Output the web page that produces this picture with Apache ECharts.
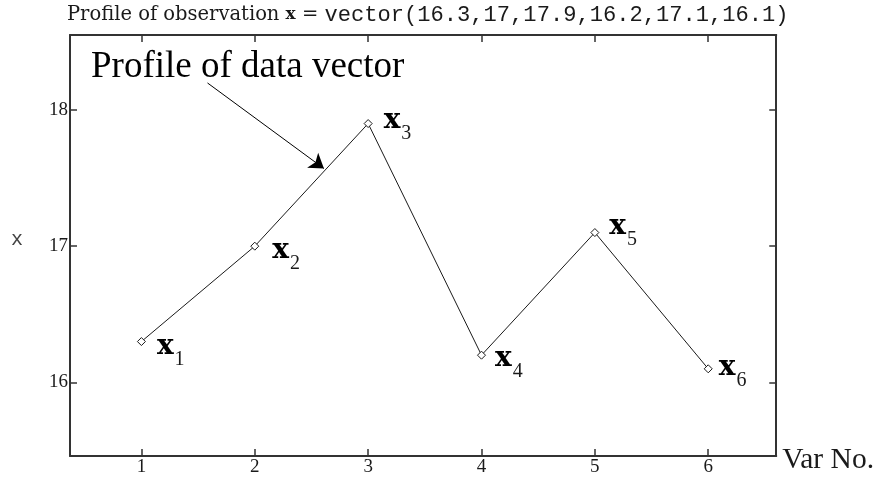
<!DOCTYPE html>
<html>
<head>
<meta charset="utf-8">
<script src="https://cdn.jsdelivr.net/npm/echarts@6/dist/echarts.min.js"></script>
<style>
  html, body { margin: 0; padding: 0; background: #fff; }
  #chart { width: 877px; height: 477px; }
</style>
</head>
<body>
<div id="chart"></div>
<script>
// Variable numbers and the observed profile values
const varNo = [1, 2, 3, 4, 5, 6];
const profile = [16.3, 17, 17.9, 16.2, 17.1, 16.1];
const yTicks = [16, 17, 18];

// Small per-point nudges for the x_i labels, in pixels [dx, dy]
const labelShift = [[1, 5], [3, 5], [1, -3], [-1, 3.5], [0, -5.5], [-4, -1.5]];

// Annotation arrow, in data coordinates
const arrowFrom = [1.583, 18.198];
const arrowTo = [2.61, 17.57];

const ink = '#1a1a1a';
const axisInk = '#333';

const chart = echarts.init(document.getElementById('chart'), null, { renderer: 'canvas' });

const titleText = '{a|Profile of observation }{b|x}{a| = }{c|vector(' + profile.join(',') + ')}';

const tickCommon = { show: true, inside: true, length: 7, lineStyle: { color: axisInk, width: 1.5 } };
const lineCommon = { show: true, onZero: false, lineStyle: { color: axisInk, width: 2 } };
const xRange = { min: 0.37, max: 6.6 };
const yRange = { min: 15.46, max: 18.55 };

chart.setOption({
  animation: false,
  backgroundColor: '#fff',
  title: {
    left: 67,
    top: 4,
    padding: 0,
    text: titleText,
    textStyle: {
      fontWeight: 'normal',
      rich: {
        a: { fontFamily: 'DejaVu Serif', fontSize: 19.5, fontWeight: 'normal', color: ink },
        b: { fontFamily: 'DejaVu Serif', fontSize: 17, fontWeight: 'bold', color: ink },
        c: { fontFamily: 'Liberation Mono', fontSize: 22.1, fontWeight: 'normal', color: ink }
      }
    }
  },
  graphic: [{
    type: 'text',
    left: 91,
    top: 49,
    silent: true,
    style: {
      text: 'Profile of data vector',
      font: '37px "Liberation Serif"',
      fill: '#000'
    }
  }],
  grid: { left: 70, right: 100, top: 35, bottom: 20, containLabel: false },
  xAxis: [{
    type: 'value',
    position: 'bottom',
    min: xRange.min,
    max: xRange.max,
    name: 'Var No.',
    nameLocation: 'end',
    nameGap: 6,
    nameTextStyle: { fontFamily: 'Liberation Serif', fontSize: 29.5, color: ink, verticalAlign: 'top', lineHeight: 8 },
    axisLine: lineCommon,
    axisTick: Object.assign({ customValues: varNo }, tickCommon),
    axisLabel: { customValues: varNo, margin: 2, fontFamily: 'Liberation Serif', fontSize: 19, color: ink },
    splitLine: { show: false }
  }, {
    type: 'value',
    position: 'top',
    min: xRange.min,
    max: xRange.max,
    axisLine: lineCommon,
    axisTick: Object.assign({ customValues: varNo }, tickCommon),
    axisLabel: { show: false },
    splitLine: { show: false }
  }],
  yAxis: [{
    type: 'value',
    position: 'left',
    min: yRange.min,
    max: yRange.max,
    name: 'x',
    nameLocation: 'middle',
    nameGap: 47,
    nameRotate: 0,
    nameTextStyle: { fontFamily: 'Liberation Mono', fontSize: 20, color: '#444', verticalAlign: 'bottom', lineHeight: 12 },
    axisLine: lineCommon,
    axisTick: Object.assign({ customValues: yTicks }, tickCommon),
    axisLabel: { customValues: yTicks, margin: 2, fontFamily: 'Liberation Serif', fontSize: 19, color: ink },
    splitLine: { show: false }
  }, {
    type: 'value',
    position: 'right',
    min: yRange.min,
    max: yRange.max,
    axisLine: lineCommon,
    axisTick: Object.assign({ customValues: yTicks }, tickCommon),
    axisLabel: { show: false },
    splitLine: { show: false }
  }],
  series: [{
    type: 'line',
    xAxisIndex: 0,
    yAxisIndex: 0,
    data: varNo.map((v, i) => ({
      value: [v, profile[i]],
      label: { offset: labelShift[i] }
    })),
    symbol: 'diamond',
    symbolSize: 8,
    lineStyle: { color: ink, width: 1 },
    itemStyle: { color: '#fff', borderColor: ink, borderWidth: 1 },
    label: {
      show: true,
      position: 'right',
      distance: 10,
      formatter: (p) => '{x|x}{s|' + (p.dataIndex + 1) + '}',
      rich: {
        x: { fontFamily: 'DejaVu Serif', fontWeight: 'bold', fontSize: 28, lineHeight: 30, color: '#000' },
        s: { fontFamily: 'Liberation Serif', fontSize: 20, lineHeight: 20, padding: [26, 0, 0, 1], color: ink }
      }
    },
    emphasis: { disabled: true },
    markLine: {
      silent: true,
      symbol: ['none', 'arrow'],
      symbolSize: 14,
      lineStyle: { color: '#000', width: 1, type: 'solid' },
      itemStyle: { color: '#000' },
      label: { show: false },
      emphasis: { disabled: true },
      data: [[{ coord: arrowFrom }, { coord: arrowTo }]]
    }
  }]
});
</script>
</body>
</html>
